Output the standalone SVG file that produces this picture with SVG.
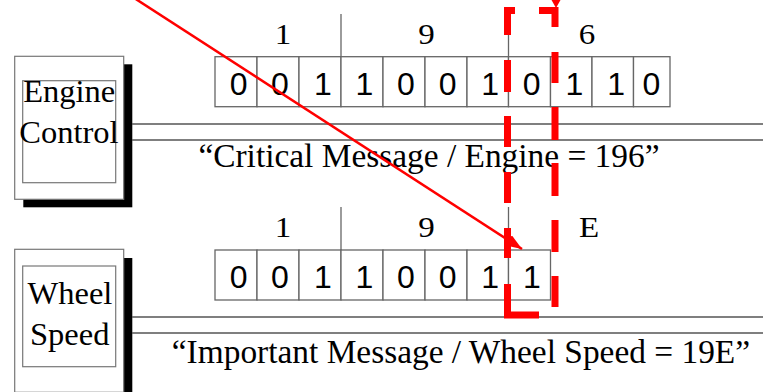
<svg xmlns="http://www.w3.org/2000/svg" width="763" height="392" viewBox="0 0 763 392">
<style>
.frame{fill:#fff;stroke:#777;stroke-width:1.2}
.shadow{fill:#000}
.cell{fill:#fff;stroke:#666;stroke-width:1.3}
.div{stroke:#666;stroke-width:1.3}
.bus{stroke:#555;stroke-width:1.5;fill:none}
.lbl{font-family:"Liberation Serif","Times New Roman",serif;font-size:32.5px;fill:#000;text-anchor:middle}
.hex{font-family:"Liberation Serif","Times New Roman",serif;font-size:30px;fill:#000;text-anchor:middle}
.cap{font-family:"Liberation Serif","Times New Roman",serif;font-size:33.4px;fill:#000}
.bit{font-family:"Liberation Sans",Arial,sans-serif;font-size:32px;fill:#000;text-anchor:middle}
.dash{fill:none;stroke:#f00;stroke-width:7;stroke-linecap:butt;stroke-linejoin:miter}
.red{stroke:#f00;stroke-width:2.5;fill:none}
</style>
<defs>
<marker id="arr" markerUnits="userSpaceOnUse" markerWidth="18" markerHeight="14" refX="16" refY="6" orient="auto">
<path d="M0,0 L16,6 L0,12 Z" fill="#f00"/>
</marker>
</defs>

<g id="engine-control">
<rect class="shadow" x="23.3" y="64.3" width="109" height="143"/>
<rect class="frame" x="14.7" y="56.3" width="109" height="143"/>
<rect class="frame" x="22.7" y="80.7" width="93" height="102"/>
<text class="lbl" x="69.2" y="102">Engine</text>
<text class="lbl" x="69" y="143">Control</text>
</g>

<g id="wheel-speed">
<rect class="shadow" x="23.3" y="258" width="109" height="143"/>
<rect class="frame" x="14.7" y="249.3" width="109" height="143"/>
<rect class="frame" x="22.7" y="266" width="93" height="100.7"/>
<text class="lbl" x="70" y="304">Wheel</text>
<text class="lbl" x="69.7" y="345">Speed</text>
</g>

<g id="connectors">
<line class="bus" x1="132" y1="124" x2="763" y2="124"/>
<line class="bus" x1="132" y1="140" x2="763" y2="140"/>
<line class="bus" x1="132" y1="317" x2="763" y2="317"/>
<line class="bus" x1="132" y1="333" x2="763" y2="333"/>
</g>

<g id="id-field-engine">
<line class="div" x1="341" y1="14" x2="341" y2="57"/>
<line class="div" x1="508.5" y1="14" x2="508.5" y2="57"/>
<text class="hex" transform="translate(283,43.5) scale(1.1,1)">1</text>
<text class="hex" transform="translate(426.5,43.5) scale(1.1,1)">9</text>
<text class="hex" transform="translate(587,43.5) scale(1.1,1)">6</text>
<rect class="cell" x="215" y="56.7" width="42" height="50"/>
<rect class="cell" x="257" y="56.7" width="42" height="50"/>
<rect class="cell" x="299" y="56.7" width="42" height="50"/>
<rect class="cell" x="341" y="56.7" width="42" height="50"/>
<rect class="cell" x="383" y="56.7" width="42" height="50"/>
<rect class="cell" x="425" y="56.7" width="42" height="50"/>
<rect class="cell" x="467" y="56.7" width="41.5" height="50"/>
<rect class="cell" x="508.5" y="56.7" width="42" height="50"/>
<rect class="cell" x="550.5" y="56.7" width="41.5" height="50"/>
<rect class="cell" x="592" y="56.7" width="41.5" height="50"/>
<rect class="cell" x="633.5" y="56.7" width="36.5" height="50"/>
<text class="bit" x="238.7" y="95">0</text>
<text class="bit" x="280" y="95">0</text>
<text class="bit" x="323" y="95">1</text>
<text class="bit" x="364.5" y="95">1</text>
<text class="bit" x="406" y="95">0</text>
<text class="bit" x="447.7" y="95">0</text>
<text class="bit" x="490.2" y="95">1</text>
<text class="bit" x="531.7" y="95">0</text>
<text class="bit" x="574.5" y="95">1</text>
<text class="bit" x="616.2" y="95">1</text>
<text class="bit" x="651.3" y="95">0</text>
</g>

<g id="id-field-wheel">
<line class="div" x1="341" y1="207" x2="341" y2="250"/>
<line class="div" x1="508.5" y1="207" x2="508.5" y2="250"/>
<text class="hex" transform="translate(283,237) scale(1.1,1)">1</text>
<text class="hex" transform="translate(426.5,237) scale(1.1,1)">9</text>
<text class="hex" transform="translate(589,237) scale(1.1,1)">E</text>
<rect class="cell" x="215" y="250" width="42" height="50"/>
<rect class="cell" x="257" y="250" width="42" height="50"/>
<rect class="cell" x="299" y="250" width="42" height="50"/>
<rect class="cell" x="341" y="250" width="42" height="50"/>
<rect class="cell" x="383" y="250" width="42" height="50"/>
<rect class="cell" x="425" y="250" width="42" height="50"/>
<rect class="cell" x="467" y="250" width="41.5" height="50"/>
<rect class="cell" x="508.5" y="250" width="42" height="50"/>
<text class="bit" x="238.7" y="287.5">0</text>
<text class="bit" x="280" y="287.5">0</text>
<text class="bit" x="323" y="287.5">1</text>
<text class="bit" x="364.5" y="287.5">1</text>
<text class="bit" x="406" y="287.5">0</text>
<text class="bit" x="447.7" y="287.5">0</text>
<text class="bit" x="490.2" y="287.5">1</text>
<text class="bit" x="532" y="287.5">1</text>
</g>

<g id="captions">
<text class="cap" x="198.4" y="167">“Critical Message / Engine = 196”</text>
<text class="cap" x="171.8" y="363">“Important Message / Wheel Speed = 19E”</text>
</g>

<g id="highlight">
<path class="dash" d="M515,10.5 H507.5 V35 M507.5,60 V92 M507.5,116 V147 M507.5,172 V203 M507.5,228 V258 M507.5,284 V315 H539 M539,10.5 H555 V27 M555,52 V83 M555,107 V140 M555,163 V196 M555,220 V252 M555,276 V307"/>
<polygon points="551.5,0 560.5,0 556,8" fill="#f00"/>
<line class="red" x1="128" y1="-6" x2="522" y2="249" marker-end="url(#arr)"/>
</g>
</svg>
